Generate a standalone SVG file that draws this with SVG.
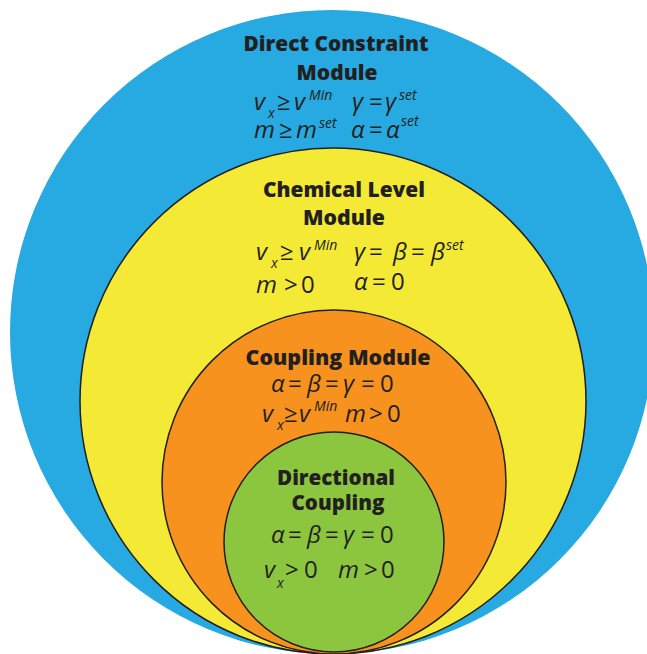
<svg xmlns="http://www.w3.org/2000/svg" width="647" height="654" viewBox="0 0 647 654">
<style>
.t{font-family:"Open Sans","Noto Sans",sans-serif;font-weight:800;font-size:21px;fill:#231f20;text-anchor:middle}
.m{font-family:"Open Sans","Noto Sans",sans-serif;font-style:italic;font-size:24px;fill:#231f20}
.u{font-style:normal}
.s{font-size:14px}
.c{stroke:#231f20;stroke-width:1.5}
</style>
<rect width="647" height="654" fill="#ffffff"/>
<g id="direct-constraint">
<circle cx="332" cy="332" r="322" fill="#27a9e1"/>
<text class="t" x="336" y="51" textLength="185" lengthAdjust="spacingAndGlyphs">Direct Constraint</text>
<text class="t" x="337" y="80" textLength="81" lengthAdjust="spacingAndGlyphs">Module</text>
<text class="m" y="110"><tspan x="254">v</tspan><tspan class="s" x="268" y="118">x</tspan><tspan class="u" x="277" y="110">≥</tspan><tspan x="294">v</tspan><tspan class="s" x="309" y="100">Min</tspan><tspan x="352" y="110">γ</tspan><tspan class="u" x="369">=</tspan><tspan x="385">γ</tspan><tspan class="s" x="399" y="100">set</tspan></text>
<text class="m" y="138"><tspan x="254">m</tspan><tspan class="u" x="279">≥</tspan><tspan x="296">m</tspan><tspan class="s" x="319" y="128">set</tspan><tspan x="351" y="138">α</tspan><tspan class="u" x="369">=</tspan><tspan x="386">α</tspan><tspan class="s" x="401" y="126">set</tspan></text>
</g>
<g id="chemical-level">
<circle class="c" cx="333" cy="401" r="253" fill="#f4ea36"/>
<text class="t" x="344" y="197" textLength="162" lengthAdjust="spacingAndGlyphs">Chemical Level</text>
<text class="t" x="344" y="225" textLength="82" lengthAdjust="spacingAndGlyphs">Module</text>
<text class="m" y="260"><tspan x="256">v</tspan><tspan class="s" x="271" y="268">x</tspan><tspan class="u" x="280" y="260">≥</tspan><tspan x="299">v</tspan><tspan class="s" x="314" y="250">Min</tspan><tspan x="354" y="260">γ</tspan><tspan class="u" x="369">=</tspan><tspan x="393">β</tspan><tspan class="u" x="411">=</tspan><tspan x="431">β</tspan><tspan class="s" x="446" y="250">set</tspan></text>
<text class="m" y="293"><tspan x="256">m</tspan><tspan class="u" x="284">&gt;</tspan><tspan class="u" x="301">0</tspan><tspan x="354" y="290">α</tspan><tspan class="u" x="372">=</tspan><tspan class="u" x="391">0</tspan></text>
</g>
<g id="coupling-module">
<circle class="c" cx="334" cy="482" r="172" fill="#f7921e"/>
<text class="t" x="338" y="365" textLength="185" lengthAdjust="spacingAndGlyphs">Coupling Module</text>
<text class="m" y="392"><tspan x="271">α</tspan><tspan class="u" x="288">=</tspan><tspan x="307">β</tspan><tspan class="u" x="325">=</tspan><tspan x="343">γ</tspan><tspan class="u" x="361">=</tspan><tspan class="u" x="380">0</tspan></text>
<text class="m" y="422"><tspan x="262">v</tspan><tspan class="s" x="277" y="430">x</tspan><tspan class="u" x="284" y="422">≥</tspan><tspan x="299">v</tspan><tspan class="s" x="314" y="411">Min</tspan><tspan x="345" y="422">m</tspan><tspan class="u" x="369">&gt;</tspan><tspan class="u" x="387">0</tspan></text>
</g>
<g id="directional-coupling">
<circle class="c" cx="334" cy="542" r="110" fill="#8cc63f"/>
<text class="t" x="336" y="485" textLength="118" lengthAdjust="spacingAndGlyphs">Directional</text>
<text class="t" x="338" y="510" textLength="93" lengthAdjust="spacingAndGlyphs">Coupling</text>
<text class="m" y="543"><tspan x="271">α</tspan><tspan class="u" x="288">=</tspan><tspan x="307">β</tspan><tspan class="u" x="325">=</tspan><tspan x="343">γ</tspan><tspan class="u" x="361">=</tspan><tspan class="u" x="380">0</tspan></text>
<text class="m" y="578"><tspan x="264">v</tspan><tspan class="s" x="277" y="588">x</tspan><tspan class="u" x="285" y="578">&gt;</tspan><tspan class="u" x="304">0</tspan><tspan x="338">m</tspan><tspan class="u" x="364">&gt;</tspan><tspan class="u" x="381">0</tspan></text>
</g>
</svg>
